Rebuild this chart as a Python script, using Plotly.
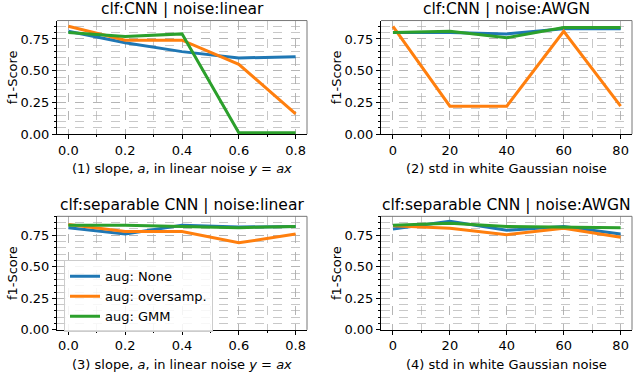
import plotly.graph_objects as go

# valores
slope = [0.0, 0.2, 0.4, 0.6, 0.8]
std = [0, 20, 40, 60, 80]
labels = ["aug: None", "aug: oversamp.", "aug: GMM"]
colors = ["#1f77b4", "#ff7f0e", "#2ca02c"]

cnn_linear_none = [0.81, 0.72, 0.65, 0.60, 0.61]
cnn_linear_over = [0.85, 0.74, 0.74, 0.55, 0.16]
cnn_linear_gmm = [0.80, 0.77, 0.79, 0.01, 0.01]

cnn_awgn_none = [0.80, 0.80, 0.79, 0.83, 0.83]
cnn_awgn_over = [0.85, 0.22, 0.22, 0.81, 0.22]
cnn_awgn_gmm = [0.80, 0.81, 0.76, 0.84, 0.84]

sep_linear_none = [0.81, 0.76, 0.83, 0.815, 0.82]
sep_linear_over = [0.835, 0.78, 0.78, 0.69, 0.76]
sep_linear_gmm = [0.83, 0.83, 0.82, 0.81, 0.82]

sep_awgn_none = [0.80, 0.86, 0.79, 0.82, 0.76]
sep_awgn_over = [0.825, 0.805, 0.755, 0.805, 0.735]
sep_awgn_gmm = [0.83, 0.845, 0.82, 0.815, 0.81]

titles = ["clf:CNN | noise:linear", "clf:CNN | noise:AWGN",
          "clf:separable CNN | noise:linear", "clf:separable CNN | noise:AWGN"]
xlabels = ["(1) slope, <i>a</i>, in linear noise <i>y</i> = <i>ax</i>",
           "(2) std in white Gaussian noise",
           "(3) slope, <i>a</i>, in linear noise <i>y</i> = <i>ax</i>",
           "(4) std in white Gaussian noise"]

W, H = 640, 379
FONT = "DejaVu Sans"
# caixas dos eixos em pixels: (esq, topo, dir, base)
boxes = [(57, 21, 307, 137), (381, 21, 632, 137),
         (57, 221, 307, 337), (381, 221, 632, 337)]
panels = [
    (slope, [cnn_linear_none, cnn_linear_over, cnn_linear_gmm]),
    (std, [cnn_awgn_none, cnn_awgn_over, cnn_awgn_gmm]),
    (slope, [sep_linear_none, sep_linear_over, sep_linear_gmm]),
    (std, [sep_awgn_none, sep_awgn_over, sep_awgn_gmm]),
]

fig = go.Figure()
grid = "rgba(170,170,170,0.65)"

for i, (xs, series) in enumerate(panels):
    n = i + 1
    sx = "" if n == 1 else str(n)
    for j, ys in enumerate(series):
        fig.add_trace(go.Scatter(
            x=xs, y=ys, mode="lines", name=labels[j],
            line=dict(color=colors[j], width=3),
            xaxis="x" + sx, yaxis="y" + sx,
            showlegend=(n == 3),
        ))
    l, t, r, b = boxes[i]
    is_slope = xs is slope
    xr = [-0.04, 0.84] if is_slope else [-4.2, 84]
    yr = [0, 0.895] if n <= 2 else [0, 0.9]
    fig.layout["xaxis" + sx] = dict(
        domain=[l / W, r / W], anchor="y" + sx, range=xr,
        tickvals=xs, ticktext=[f"{v:.1f}" for v in xs] if is_slope else [str(v) for v in xs],
        ticks="outside", ticklen=4, tickcolor="black",
        showline=True, linecolor="black", linewidth=1,
        showgrid=True, gridcolor=grid, griddash="dash", gridwidth=0.8,
        minor=dict(dtick=0.1 if is_slope else 10, tick0=0, ticks="outside", ticklen=2,
                   tickcolor="black", showgrid=True, gridcolor=grid, griddash="dash", gridwidth=0.8),
        zeroline=False, tickfont=dict(size=13, color="black"),
    )
    fig.layout["yaxis" + sx] = dict(
        domain=[1 - b / H, 1 - t / H], anchor="x" + sx, range=yr,
        tickvals=[0, 0.25, 0.5, 0.75], ticktext=["0.00", "0.25", "0.50", "0.75"],
        ticks="outside", ticklen=4, tickcolor="black",
        showline=True, linecolor="black", linewidth=1,
        showgrid=True, gridcolor=grid, griddash="dash", gridwidth=0.8,
        minor=dict(dtick=0.05, tick0=0, ticks="outside", ticklen=2, tickcolor="black",
                   showgrid=True, gridcolor=grid, griddash="dash", gridwidth=0.8),
        zeroline=False, tickfont=dict(size=13, color="black"),
    )
    # moldura cinza superior/direita
    fig.add_shape(type="line", xref="x" + sx + " domain", yref="y" + sx + " domain",
                  x0=0, x1=1, y0=1, y1=1, line=dict(color="#777", width=1))
    fig.add_shape(type="line", xref="x" + sx + " domain", yref="y" + sx + " domain",
                  x0=1, x1=1, y0=0, y1=1, line=dict(color="#777", width=1))
    cx = (l + r) / 2 / W
    fig.add_annotation(text=titles[i], x=cx, y=1 - (t - 12) / H, xref="paper", yref="paper",
                       showarrow=False, font=dict(size=15.5, color="black"),
                       xanchor="center", yanchor="middle")
    fig.add_annotation(text=xlabels[i], x=cx, y=1 - (b + 35) / H, xref="paper", yref="paper",
                       showarrow=False, font=dict(size=13, color="black"),
                       xanchor="center", yanchor="middle")
    fig.add_annotation(text="f1-Score", x=(l - 45) / W, y=1 - (t + b) / 2 / H, xref="paper",
                       yref="paper", showarrow=False, textangle=-90,
                       font=dict(size=13, color="black"), xanchor="center", yanchor="middle")

fig.update_layout(
    width=W, height=H,
    margin=dict(l=0, r=0, t=0, b=0),
    paper_bgcolor="white", plot_bgcolor="white",
    font=dict(family=FONT, size=13, color="black"),
    legend=dict(x=64 / W, y=1 - 266 / H, xanchor="left", yanchor="top",
                bgcolor="rgba(255,255,255,0.85)", bordercolor="#cccccc", borderwidth=1,
                font=dict(size=13), tracegroupgap=0),
)

# tira a margem padrão do <body> para a figura ficar em (0,0)
fig.write_html("out.html", config={"displayModeBar": False},
               post_script="document.body.style.margin='0';")
